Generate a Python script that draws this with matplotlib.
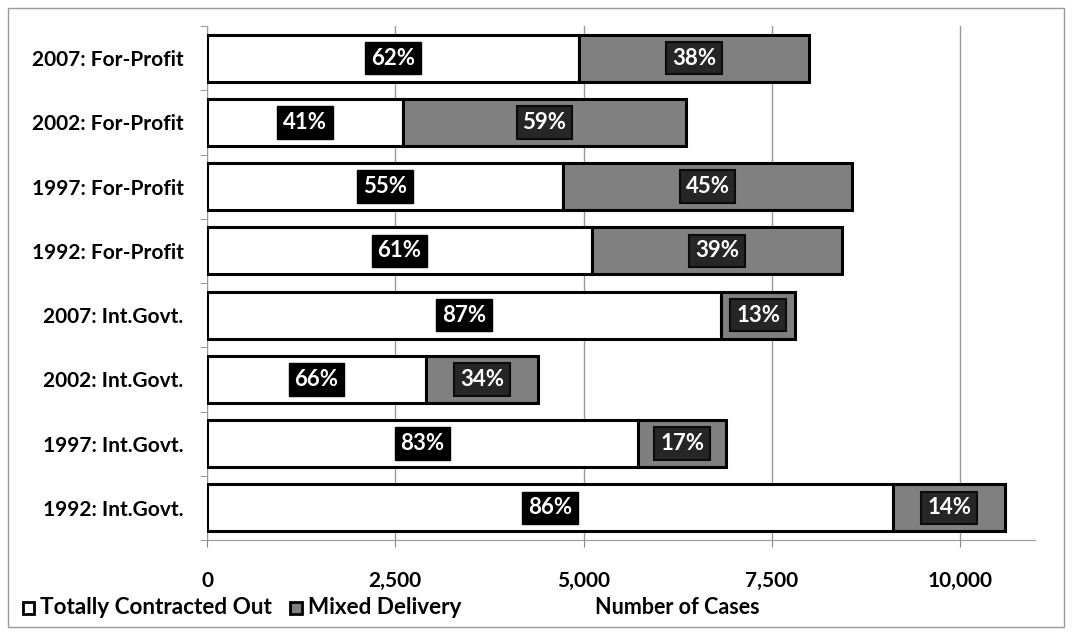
import matplotlib.pyplot as plt
import numpy as np
from matplotlib.patches import Rectangle

plt.rcParams['font.family'] = ['Lato', 'DejaVu Sans']

categories = ['2007: For-Profit', '2002: For-Profit', '1997: For-Profit', '1992: For-Profit',
              '2007: Int.Govt.', '2002: Int.Govt.', '1997: Int.Govt.', '1992: Int.Govt.']
# number of cases per delivery mode
contracted = [4940, 2603, 4728, 5113, 6826, 2908, 5724, 9110]
mixed = [3055, 3758, 3838, 3320, 983, 1488, 1168, 1488]
xticks = [0, 2500, 5000, 7500, 10000]

contracted = np.array(contracted)
mixed = np.array(mixed)
total = contracted + mixed
pct_c = np.round(100 * contracted / total).astype(int)
pct_m = np.round(100 * mixed / total).astype(int)

W, H = 1072, 635
fig = plt.figure(figsize=(W / 100, H / 100), dpi=100)
ax = fig.add_axes([207/W, 1 - 540/H, (1035-207)/W, (540-26)/H])

y = np.arange(len(categories))[::-1]
h = 0.73
ax.barh(y, contracted, height=h, color='white', edgecolor='black', linewidth=2.2, zorder=3)
ax.barh(y, mixed, left=contracted, height=h, color='#808080', edgecolor='black', linewidth=2.2, zorder=3)

for yi, c, m, pc, pm in zip(y, contracted, mixed, pct_c, pct_m):
    ax.text(c / 2, yi, f'{pc}%', ha='center', va='center', color='white', fontsize=16,
            fontweight='bold', zorder=5,
            bbox=dict(boxstyle='square,pad=0.26', fc='black', ec='black'))
    ax.text(c + m / 2, yi, f'{pm}%', ha='center', va='center', color='white', fontsize=16,
            fontweight='bold', zorder=5,
            bbox=dict(boxstyle='square,pad=0.26', fc='#262626', ec='#0a0a0a', lw=1.5))

ax.set_xlim(0, 10995)
ax.set_ylim(-0.5, len(categories) - 0.5)
ax.set_xticks(xticks)
ax.set_xticklabels([f'{v:,}' for v in xticks], fontsize=15, fontweight='bold')
ax.set_yticks(y)
ax.set_yticklabels(categories, fontsize=15, fontweight='bold')
ax.set_yticks(np.arange(len(categories) + 1) - 0.5, minor=True)
ax.tick_params(axis='y', which='major', length=0, pad=17)
ax.tick_params(axis='y', which='minor', length=5, color='#888888')
ax.tick_params(axis='x', length=5, color='#888888', pad=17)
ax.grid(axis='x', color='#999999', linewidth=1, zorder=0)
for s in ['top', 'right']:
    ax.spines[s].set_visible(False)
for s in ['left', 'bottom']:
    ax.spines[s].set_color('#999999')

# legend and axis title along the bottom
ly = 1 - 608/H
fig.patches.append(Rectangle((23/W, 1 - 614/H), 11/W, 12/H, transform=fig.transFigure,
                             fc='white', ec='black', lw=2))
fig.text(40/W, ly, 'Totally Contracted Out', fontsize=16.2, va='center', fontweight='bold')
fig.patches.append(Rectangle((290/W, 1 - 614/H), 12/W, 12/H, transform=fig.transFigure,
                             fc='#808080', ec='black', lw=2))
fig.text(308/W, ly, 'Mixed Delivery', fontsize=16.2, va='center', fontweight='bold')
fig.text(677/W, ly, 'Number of Cases', fontsize=15.5, va='center', ha='center',
         fontweight='bold')

fig.patches.append(Rectangle((8/W, 8/H), 1056/W, 619/H, transform=fig.transFigure,
                             fill=False, ec='#999999', lw=1))

fig.savefig('out.png', dpi=100)
